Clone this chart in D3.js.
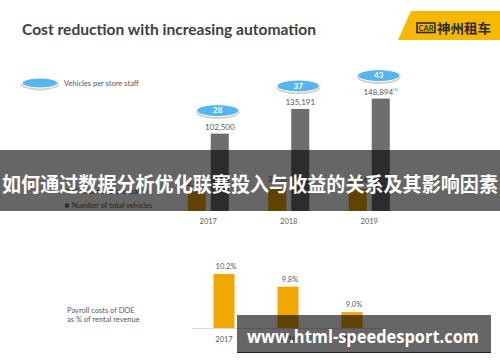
<!DOCTYPE html>
<html><head><meta charset="utf-8">
<script src="https://cdn.jsdelivr.net/npm/d3@7"></script>
<style>html,body{margin:0;padding:0;background:#fff;}svg{display:block;}</style>
</head><body>
<script>
// ---- data ----
const years = ["2017", "2018", "2019"];
const totalVehicles = [102500, 135191, 148894];
const totalVehicleLabels = ["102,500", "135,191", "148,894"];
const storeStaff = [2993, 3556, 3434];
const storeStaffLabels = ["2,993", "3,556", "3,434"];
const vehiclesPerStaff = [28, 37, 43];
const payrollPct = [10.2, 9.8, 9.0];
const payrollLabels = ["10.2%", "9.8%", "9.0%"];

const W = 500, H = 362;
const svg = d3.select("body").append("svg").attr("width", W).attr("height", H);
const FONT = "Lato, 'Open Sans', sans-serif";
const GREY_TXT = "#595959";

// title
svg.append("text").attr("x", 22).attr("y", 35).text("Cost reduction with increasing automation")
  .attr("font-family", FONT).attr("font-weight", "bold").attr("font-size", 15.5)
  .attr("fill", "#404040").attr("textLength", 294).attr("lengthAdjust", "spacingAndGlyphs");

// logo
svg.append("polygon").attr("points", "411,11 500,11 500,40 398,40").attr("fill", "#f6b800");
svg.append("rect").attr("x", 417).attr("y", 23).attr("width", 18).attr("height", 9.5)
  .attr("fill", "none").attr("stroke", "#2b2b2b").attr("stroke-width", 1.6);
svg.append("text").attr("x", 426).attr("y", 31).attr("text-anchor", "middle").text("CAR")
  .attr("font-family", FONT).attr("font-weight", "bold").attr("font-size", 8).attr("fill", "#2b2b2b")
  .attr("textLength", 15).attr("lengthAdjust", "spacingAndGlyphs");
svg.append("text").attr("x", 437).attr("y", 33).text("神州租车")
  .attr("font-family", "'Noto Sans CJK SC'").attr("font-weight", "bold").attr("font-size", 13)
  .attr("fill", "#2b2b2b").attr("textLength", 54).attr("lengthAdjust", "spacingAndGlyphs");

// legend (blue ellipse)
function blueEllipse(g, cx, cy, rx, ry) {
  g.append("ellipse").attr("cx", cx).attr("cy", cy + 1.2).attr("rx", rx + 1).attr("ry", ry + 1.2).attr("fill", "#d0d0d0");
  g.append("ellipse").attr("cx", cx).attr("cy", cy).attr("rx", rx).attr("ry", ry)
    .attr("fill", "#56b4ee").attr("stroke", "#fff").attr("stroke-width", 1);
}
blueEllipse(svg, 40, 83, 18, 5);
svg.append("text").attr("x", 64).attr("y", 85.5).text("Vehicles per store staff")
  .attr("font-family", FONT).attr("font-size", 7.5).attr("fill", GREY_TXT);

// ---- top chart ----
const x0 = d3.scaleBand().domain(years).range([168, 409.5]).paddingInner(0.49).paddingOuter(0.245);
const x1 = d3.scaleBand().domain(["staff", "vehicles"]).range([0, x0.bandwidth()]).paddingInner(0.217);
const yV = d3.scaleLinear().domain([0, 200000]).range([211, 60]);
const yS = d3.scaleLinear().domain([0, 3556]).range([211, 188]);

const topG = svg.append("g");
years.forEach((yr, i) => {
  const gx = x0(yr);
  // staff bar (orange)
  topG.append("rect").attr("x", gx + x1("staff")).attr("y", yS(storeStaff[i]))
    .attr("width", x1.bandwidth()).attr("height", yS(0) - yS(storeStaff[i])).attr("fill", "#f0a800");
  topG.append("text").attr("x", gx + x1("staff") + x1.bandwidth() / 2).attr("y", yS(storeStaff[i]) - 6)
    .attr("text-anchor", "middle").text(storeStaffLabels[i])
    .attr("font-family", FONT).attr("font-size", 7.5).attr("fill", GREY_TXT);
  // vehicles bar (grey)
  const vx = gx + x1("vehicles");
  topG.append("rect").attr("x", vx).attr("y", yV(totalVehicles[i]))
    .attr("width", x1.bandwidth()).attr("height", yV(0) - yV(totalVehicles[i])).attr("fill", "#6e6e6e");
  const lbl = topG.append("text").attr("x", vx + x1.bandwidth() / 2).attr("y", yV(totalVehicles[i]) - 4)
    .attr("text-anchor", "middle").attr("font-family", FONT).attr("font-size", 8).attr("fill", GREY_TXT);
  lbl.append("tspan").text(totalVehicleLabels[i]);
  if (i === 2) lbl.append("tspan").attr("dy", -3.5).attr("font-size", 4.5).text("(1)");
  // blue ellipse
  const ex = vx + x1.bandwidth() / 2 - 2, ey = yV(totalVehicles[i]) - 23;
  blueEllipse(topG, ex, ey, 21, 6);
  topG.append("text").attr("x", ex).attr("y", ey + 2.8).attr("text-anchor", "middle")
    .text(vehiclesPerStaff[i]).attr("font-family", FONT).attr("font-weight", "bold")
    .attr("font-size", 8).attr("fill", "#fff");
  // year label
  topG.append("text").attr("x", gx + x0.bandwidth() / 2).attr("y", 224).attr("text-anchor", "middle")
    .text(yr).attr("font-family", FONT).attr("font-size", 7.5).attr("fill", GREY_TXT);
});
// legend items for top chart
svg.append("rect").attr("x", 65).attr("y", 189).attr("width", 4).attr("height", 4).attr("fill", "#f0a800");
svg.append("text").attr("x", 72).attr("y", 193.5).text("Number of store staff")
  .attr("font-family", FONT).attr("font-size", 7.5).attr("fill", GREY_TXT);
svg.append("rect").attr("x", 65).attr("y", 203.5).attr("width", 4).attr("height", 4).attr("fill", "#6e6e6e");
svg.append("text").attr("x", 72).attr("y", 208).text("Number of total vehicles")
  .attr("font-family", FONT).attr("font-size", 7.5).attr("fill", GREY_TXT);

// overlay banner
svg.append("rect").attr("x", 0).attr("y", 150).attr("width", 500).attr("height", 61).attr("fill", "rgba(0,0,0,0.6)");
svg.append("text").attr("x", 2).attr("y", 192).text("如何通过数据分析优化联赛投入与收益的关系及其影响因素")
  .attr("font-family", "'Noto Sans CJK SC'").attr("font-weight", "bold").attr("font-size", 20)
  .attr("fill", "#fff").attr("textLength", 496).attr("lengthAdjust", "spacingAndGlyphs");

// ---- bottom chart ----
const xb = d3.scaleBand().domain(years).range([192, 384]).paddingInner(0.672).paddingOuter(0.336);
const yb = d3.scaleLinear().domain([8.5, 10.2]).range([328, 274]);
svg.append("line").attr("x1", 192).attr("x2", 384).attr("y1", 328.5).attr("y2", 328.5)
  .attr("stroke", "#d9d9d9").attr("stroke-width", 1);
years.forEach((yr, i) => {
  svg.append("rect").attr("x", xb(yr)).attr("y", yb(payrollPct[i])).attr("width", xb.bandwidth())
    .attr("height", yb.range()[0] - yb(payrollPct[i])).attr("fill", "#f0a800");
  svg.append("text").attr("x", xb(yr) + xb.bandwidth() / 2 + 2).attr("y", yb(payrollPct[i]) - 5)
    .attr("text-anchor", "middle").text(payrollLabels[i])
    .attr("font-family", FONT).attr("font-size", 7.5).attr("fill", GREY_TXT);
  svg.append("text").attr("x", xb(yr) + xb.bandwidth() / 2).attr("y", 342)
    .attr("text-anchor", "middle").text(yr)
    .attr("font-family", FONT).attr("font-size", 7.5).attr("fill", GREY_TXT);
});
svg.append("text").attr("x", 67).attr("y", 312.5).text("Payroll costs of DOE")
  .attr("font-family", FONT).attr("font-size", 7.5).attr("fill", GREY_TXT);
svg.append("text").attr("x", 67).attr("y", 321.5).text("as % of rental revenue")
  .attr("font-family", FONT).attr("font-size", 7.5).attr("fill", GREY_TXT);

// bottom overlay
svg.append("rect").attr("x", 237).attr("y", 315).attr("width", 254).attr("height", 37).attr("fill", "rgba(0,0,0,0.6)");
svg.append("line").attr("x1", 237).attr("x2", 491).attr("y1", 352.5).attr("y2", 352.5)
  .attr("stroke", "#222").attr("stroke-width", 1.2);
svg.append("text").attr("x", 247).attr("y", 343).text("www.html-speedesport.com")
  .attr("font-family", "'Open Sans', sans-serif").attr("font-weight", "bold").attr("font-size", 17)
  .attr("fill", "#fff").attr("textLength", 232).attr("lengthAdjust", "spacingAndGlyphs");
</script>
</body></html>
